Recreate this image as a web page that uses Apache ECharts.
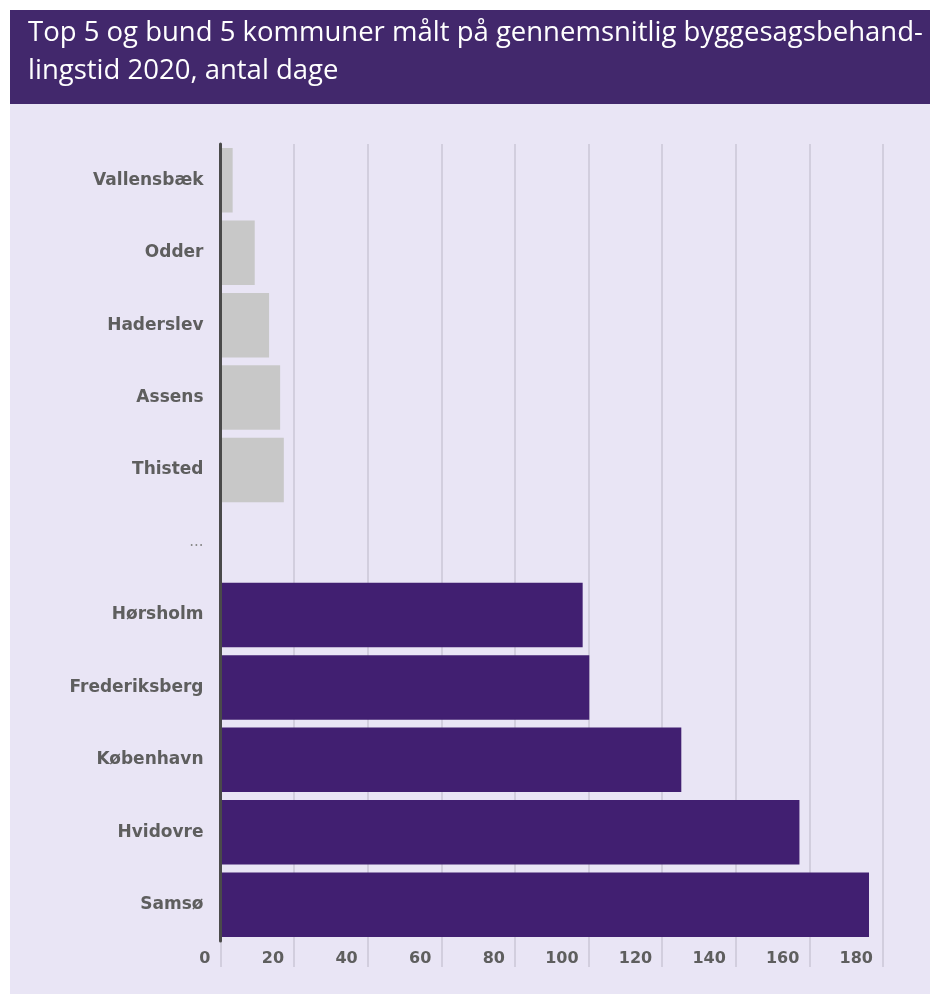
<!DOCTYPE html>
<html>
<head>
<meta charset="utf-8">
<script src="https://cdn.jsdelivr.net/npm/echarts@6/dist/echarts.min.js"></script>
<style>
html,body{margin:0;padding:0;background:#ffffff;}
#chart{width:930px;height:995px;}
</style>
</head>
<body>
<div id="chart"></div>
<script>
const titleText = "Top 5 og bund 5 kommuner målt på gennemsnitlig byggesagsbehand-\nlingstid 2020, antal dage";
const categories = ["Vallensbæk","Odder","Haderslev","Assens","Thisted","...","Hørsholm","Frederiksberg","København","Hvidovre","Samsø"];
const values = [3.3, 9.3, 13.2, 16.2, 17.2, null, 98.4, 100.2, 125.2, 157.3, 176.2];
const topGroupCount = 5;
const xTicks = {min: 0, max: 180, interval: 20};

const chart = echarts.init(document.getElementById('chart'), null, {renderer: 'canvas'});
const labelFont = 'DejaVu Sans';
chart.setOption({
  backgroundColor: '#ffffff',
  animation: false,
  graphic: [
    {type: 'rect', left: 10, top: 104, shape: {width: 920, height: 890}, style: {fill: '#e9e5f5'}, z: -10},
    {type: 'rect', left: 10, top: 10, shape: {width: 920, height: 94}, style: {fill: '#42286c'}, z: -10}
  ],
  title: {
    text: titleText,
    left: 23, top: 9,
    textStyle: {color: '#ffffff', fontFamily: 'Open Sans', fontSize: 27.5, fontWeight: 'normal', lineHeight: 38}
  },
  grid: {left: 220.5, right: 47, top: 144, bottom: 54, containLabel: false},
  xAxis: {
    type: 'value',
    min: xTicks.min, max: xTicks.max, interval: xTicks.interval,
    axisLine: {show: false},
    axisTick: {show: true, length: 26, lineStyle: {color: '#d2cede', width: 2}},
    splitLine: {show: true, lineStyle: {color: '#d2cede', width: 2}},
    axisLabel: {
      align: 'right', padding: [0, 10, 0, 0], margin: 10,
      color: '#5e5e5e', fontFamily: labelFont, fontWeight: 'bold', fontSize: 16
    }
  },
  yAxis: {
    type: 'category',
    inverse: true,
    data: categories,
    axisLine: {show: true, lineStyle: {color: '#4a4a4a', width: 3}},
    axisTick: {show: false},
    axisLabel: {
      margin: 17, color: '#5e5e5e', fontFamily: labelFont, fontWeight: 'bold', fontSize: 17,
      formatter: function (v) { return v === '...' ? '{dots|' + v + '}' : v; },
      rich: {dots: {color: '#8a8a8a', fontWeight: 'normal', fontFamily: labelFont, fontSize: 15}}
    },
    z: 5
  },
  series: [{
    type: 'bar',
    data: values,
    barCategoryGap: '11%',
    itemStyle: {
      color: function (p) { return p.dataIndex < topGroupCount ? '#c8c8c8' : '#411f71'; }
    }
  }]
});
</script>
</body>
</html>
